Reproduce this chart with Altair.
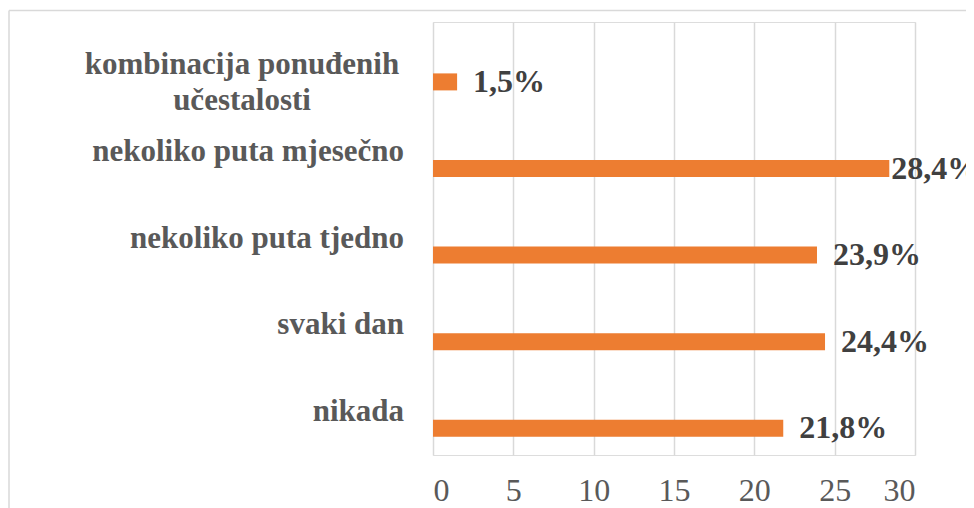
import altair as alt
import pandas as pd

categories = [
    "kombinacija ponuđenih\nučestalosti",
    "nekoliko puta mjesečno",
    "nekoliko puta tjedno",
    "svaki dan",
    "nikada",
]
values = [1.5, 28.4, 23.9, 24.4, 21.8]
value_labels = ["1,5%", "28,4%", "23,9%", "24,4%", "21,8%"]
x_ticks = [0, 5, 10, 15, 20, 25, 30]

df = pd.DataFrame({"cat": categories, "val": values, "lab": value_labels})

FONT = "Liberation Serif, Times New Roman, serif"
ORANGE = "#ED7D31"
BAR_SHIFT = 16.6

y_enc = alt.Y("cat:N", sort=categories, axis=None,
              scale=alt.Scale(paddingInner=0, paddingOuter=0))
x_enc = alt.X("val:Q",
              scale=alt.Scale(domain=[0, 30], nice=False),
              axis=alt.Axis(values=x_ticks, title=None, domain=False, ticks=False,
                            grid=True, gridColor="#d9d9d9", gridWidth=1.5,
                            labelFont=FONT, labelFontSize=32, labelColor="#595959",
                            labelPadding=20, labelBaseline="top"))

base = alt.Chart(df)

bars = base.mark_bar(color=ORANGE, size=17, yOffset=BAR_SHIFT).encode(x=x_enc, y=y_enc)

val_text = base.transform_filter("datum.val < 28").mark_text(
    align="left", baseline="middle", dx=16, yOffset=BAR_SHIFT,
    font=FONT, fontSize=32, fontWeight="bold", color="#404040"
).encode(x="val:Q", y=y_enc, text="lab:N")

val_text_max = base.transform_filter("datum.val >= 28").mark_text(
    align="left", baseline="middle", dx=2, yOffset=BAR_SHIFT,
    font=FONT, fontSize=32, fontWeight="bold", color="#404040"
).encode(x="val:Q", y=y_enc, text="lab:N")

cat_text = base.transform_filter("indexof(datum.cat, '\\n') < 0").mark_text(
    align="right", baseline="middle",
    font=FONT, fontSize=31, fontWeight="bold", color="#595959"
).encode(x=alt.value(-29), y=y_enc, text="cat:N")

cat_text_multi = base.transform_filter("indexof(datum.cat, '\\n') >= 0").mark_text(
    align="center", baseline="middle", lineBreak="\n", lineHeight=36,
    font=FONT, fontSize=31, fontWeight="bold", color="#595959"
).encode(x=alt.value(-191), y=y_enc, text="cat:N")

frame_data = alt.Data(values=[{"k": 1}])
border_top = alt.Chart(frame_data).mark_rule(color="#d9d9d9", strokeWidth=1.5).encode(
    x=alt.value(-424), x2=alt.value(700), y=alt.value(-11.5))
border_left = alt.Chart(frame_data).mark_rule(color="#d9d9d9", strokeWidth=1.5).encode(
    x=alt.value(-424), y=alt.value(-11.5), y2=alt.value(600))

chart = alt.layer(
    border_top, border_left, bars, val_text, val_text_max, cat_text, cat_text_multi
).properties(
    width=482, height=433,
    autosize=alt.AutoSizeParams(type="none"),
    padding={"left": 425, "top": 14, "right": 51, "bottom": 53},
).configure_view(stroke="transparent").configure(background="white")

chart.save("out.html", embed_options={"renderer": "svg", "actions": False})
